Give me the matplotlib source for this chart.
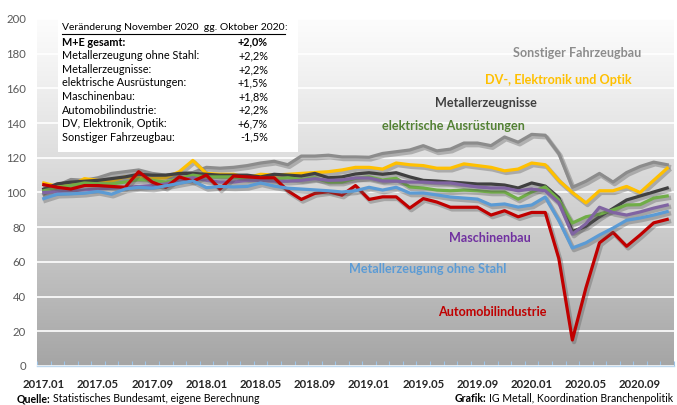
import numpy as np
import matplotlib
matplotlib.use("Agg")
import matplotlib.pyplot as plt
import matplotlib.patheffects as pe
from matplotlib.patches import Rectangle
from matplotlib.lines import Line2D

# ---------------- data ----------------
months = [f"{y}.{m:02d}" for y in range(2017, 2021) for m in range(1, 13)][:47]
tick_labels = months[::4]

sonstiger = [99, 104, 107.5, 107, 108.5, 111, 112, 113, 111, 110, 111, 111.5,
             114.5, 114, 114.5, 115.5, 117, 118, 116, 121, 121, 121.5, 120.5, 120.5,
             120.3, 122.5, 123.5, 124.5, 127, 124, 125, 128.5, 128.5, 127, 132, 129,
             133.5, 133, 122.5, 103, 106.5, 111, 106, 111.5, 115, 117.5, 116]
dv_optik = [105.5, 103.5, 104, 108, 107, 106.5, 109, 108.5, 108, 108.5, 112, 118.5,
            111, 110.5, 110.5, 108.5, 110.5, 110, 110.5, 111, 111.5, 112, 113, 114.5,
            114.5, 113.5, 117, 116, 115.5, 114, 114, 116.5, 115.5, 114.5, 112.5, 113.5,
            117, 116, 107, 100, 94, 101, 101, 103.5, 100, 107, 114]
metallerzeugnisse = [102, 105, 106, 106.5, 107, 108, 109, 110.5, 110, 110, 111, 111,
                     110.5, 110, 110, 110, 109, 110.5, 110, 109.5, 111, 108.5, 109, 110.7,
                     111.4, 110.5, 111.4, 109, 107, 106.6, 106, 105.5, 104.9, 104.9, 104.3, 102.6,
                     105.5, 103.7, 97, 77.5, 80.5, 86, 90.8, 95.7, 98, 100.3, 102.6]
elektrisch = [101, 103, 104, 105.5, 105, 105, 106, 107.5, 107, 106, 108, 110,
              109, 109, 109, 108, 108.5, 107.5, 108.5, 107.5, 108.5, 106, 106, 108.2,
              109, 107.2, 108.2, 103.2, 102.6, 101.4, 101, 101.4, 101, 100.3, 100.3, 96.2,
              100.3, 103.2, 95.7, 82.4, 86, 87.5, 90, 92.8, 93, 96.8, 98]
maschinenbau = [100, 100.5, 101, 101.5, 102, 102.5, 103, 103.5, 104, 105, 107, 108.5,
                107, 106, 106, 107, 107, 106.5, 106.5, 107, 108, 107, 107.2, 108.4,
                108.4, 106.6, 106.6, 106, 106, 105.5, 105.5, 104.3, 103.2, 102.6, 102.6, 101,
                102, 101, 94, 76, 82, 91.5, 88.5, 87, 88.8, 91, 92.8]
auto = [104.5, 103, 102, 104, 104, 103.5, 103, 112, 106, 103, 109, 106.5,
        110, 102, 109.5, 109, 108.5, 108.5, 101, 96, 99.5, 100.5, 98.5, 104,
        96, 97.5, 97.5, 91, 96.5, 94.5, 91.5, 91.5, 91.5, 87, 89.5, 86,
        88.5, 88.5, 62, 15, 45, 71, 77, 69, 75.5, 82.5, 84.5]
metallerzeugung = [96.5, 99, 99.2, 99.6, 100.6, 99, 102, 103, 102.5, 103.8, 105.3, 106.7,
                   102.8, 103.5, 103.2, 103.5, 105.5, 103.7, 102.5, 102, 101.5, 101, 100.3, 101,
                   103, 101.4, 103, 99.7, 99.7, 98.6, 97.4, 96.8, 96.2, 92.8, 93.4, 91.6,
                   92.8, 97.4, 84, 68, 71, 75.5, 79.5, 84, 85.3, 87, 89]

box_title = "Veränderung November 2020  gg. Oktober 2020"
box_labels = ["M+E gesamt:", "Metallerzeugung ohne Stahl:", "Metallerzeugnisse:",
              "elektrische Ausrüstungen:", "Maschinenbau:", "Automobilindustrie:",
              "DV, Elektronik, Optik:", "Sonstiger Fahrzeugbau:"]
box_values = ["+2,0%", "+2,2%", "+2,2%", "+1,5%", "+1,8%", "+2,2%", "+6,7%", "-1,5%"]

series = [
    ("Sonstiger Fahrzeugbau", sonstiger, "#8c8c8c", "#8c8c8c", (577, 53)),
    ("DV-, Elektronik und Optik", dv_optik, "#FFC000", "#FFC000", (558, 80)),
    ("Metallerzeugnisse", metallerzeugnisse, "#404040", "#404040", (486, 103)),
    ("elektrische Ausrüstungen", elektrisch, "#70AD47", "#548235", (453, 126)),
    ("Maschinenbau", maschinenbau, "#8064A2", "#7030A0", (490, 238)),
    ("Automobilindustrie", auto, "#C00000", "#C00000", (492, 312)),
    ("Metallerzeugung ohne Stahl", metallerzeugung, "#5B9BD5", "#5B9BD5", (428, 269)),
]

FONT = "Lato"
W, H = 677, 405
fig = plt.figure(figsize=(W / 100, H / 100), dpi=100)
fig.patch.set_facecolor("white")


def fx(x):
    return x / W


def fy(y):
    return 1 - y / H


ax = fig.add_axes([fx(37), fy(366), (674 - 37) / W, (366 - 19) / H])
n = len(months)
x = np.arange(n)

# gradient background
grad = np.linspace(0, 1, 256).reshape(-1, 1)
top, bot = np.array([252, 252, 252]) / 255, np.array([165, 165, 165]) / 255
shade = grad ** 1.15
img = top * (1 - shade[..., None]) + bot * shade[..., None]
ax.imshow(img, extent=[-0.5, n - 0.5, 0, 200], aspect="auto", origin="upper", zorder=0)

ax.set_xlim(-0.5, n - 0.5)
ax.set_ylim(0, 200)
ax.set_yticks(range(0, 201, 20))
ax.yaxis.grid(True, color="white", lw=1.2, zorder=1)
ax.set_axisbelow(False)
for s in ["top", "right", "left"]:
    ax.spines[s].set_visible(False)
ax.spines["bottom"].set_color("#BDD7EE")
ax.spines["bottom"].set_linewidth(1.0)
ax.spines["bottom"].set_zorder(5)

ax.set_xticks(x[::4])
ax.set_xticklabels(tick_labels, fontfamily=FONT, fontweight="bold", fontsize=8.2, color="#262626")
ax.set_xticks(np.arange(-0.5, n, 1), minor=True)
ax.tick_params(axis="x", which="major", length=0, pad=9)
ax.tick_params(axis="x", which="minor", length=3.5, direction="in", color="#9DC3E6", width=0.8)
ax.tick_params(axis="y", length=0, pad=8)
for lab in ax.get_yticklabels():
    lab.set_fontfamily(FONT)
    lab.set_fontsize(8.2)
    lab.set_color("#595959")

shadow = [pe.SimpleLineShadow(offset=(1.2, -1.5), shadow_color="#555555", alpha=0.35, linewidth=3.2), pe.Normal()]
for name, vals, col, lcol, (lx, ly) in series:
    ax.plot(x, vals, color=col, lw=2.3, solid_joinstyle="round", zorder=3, path_effects=shadow)
    fig.text(fx(lx), fy(ly), name, color=lcol, fontfamily=FONT, fontweight="bold",
             fontsize=9.1, ha="center", va="center")

# info box
fig.patches.append(Rectangle((fx(58), fy(152)), (298 - 58) / W, (152 - 18) / H,
                             transform=fig.transFigure, facecolor="white", edgecolor="none", zorder=2))
BOXFS = 7.8
t = fig.text(fx(62), fy(27), box_title, fontfamily=FONT, fontsize=7.5, color="#000000",
             ha="left", va="center", zorder=4)
row_y = [42, 55.5, 69.5, 83, 96.5, 110, 123.5, 137]
for i, (lab, val) in enumerate(zip(box_labels, box_values)):
    bold = "bold" if i == 0 else "normal"
    fig.text(fx(62), fy(row_y[i]), lab, fontfamily=FONT, fontsize=BOXFS, fontweight=bold,
             color="#000000", ha="left", va="center", zorder=4)
    fig.text(fx(268), fy(row_y[i]), val, fontfamily=FONT, fontsize=BOXFS, fontweight=bold,
             color="#000000", ha="right", va="center", zorder=4)

fig.canvas.draw()
r = fig.canvas.get_renderer()
bb = t.get_window_extent(r)
fig.lines.append(Line2D([bb.x0 / W, bb.x1 / W], [fy(33.5), fy(33.5)], transform=fig.transFigure,
                        color="black", lw=0.8, zorder=4))
fig.text(bb.x1 / W, fy(27), ":", fontfamily=FONT, fontsize=7.5, color="#000000",
         ha="left", va="center", zorder=4)

# footer
FFS = 7.6
q1 = fig.text(fx(17), fy(399), "Quelle:", fontfamily=FONT, fontsize=FFS, fontweight="bold",
              color="#000000", ha="left", va="center")
fig.canvas.draw()
b1 = q1.get_window_extent(r)
fig.text(b1.x1 / W + 2.5 / W, fy(399), "Statistisches Bundesamt, eigene Berechnung",
         fontfamily=FONT, fontsize=FFS, color="#000000", ha="left", va="center")

g2 = fig.text(fx(673), fy(399), "IG Metall, Koordination Branchenpolitik", fontfamily=FONT,
              fontsize=FFS, color="#000000", ha="right", va="center")
fig.canvas.draw()
b2 = g2.get_window_extent(r)
fig.text(b2.x0 / W - 2.5 / W, fy(399), "Grafik:", fontfamily=FONT, fontsize=FFS, fontweight="bold",
         color="#000000", ha="right", va="center")

fig.savefig("out.png", dpi=100)
